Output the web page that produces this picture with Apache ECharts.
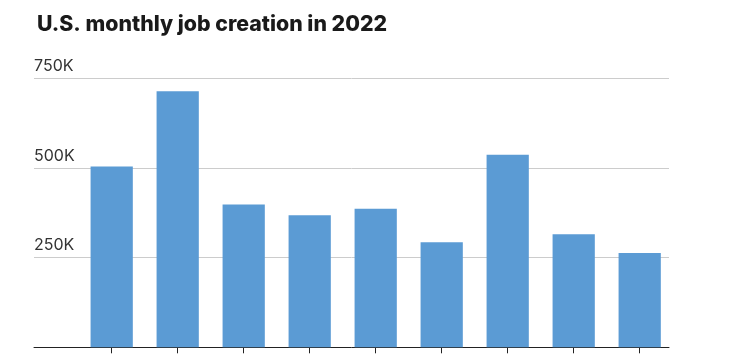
<!DOCTYPE html>
<html>
<head>
<meta charset="utf-8">
<script src="https://cdn.jsdelivr.net/npm/echarts@6/dist/echarts.min.js"></script>
<style>
html,body{margin:0;padding:0;background:#fff;}
#chart{width:731px;height:361px;}
</style>
</head>
<body>
<div id="chart"></div>
<script>
const titleText = 'U.S. monthly job creation in 2022';
const months = ['Jan', 'Feb', 'Mar', 'Apr', 'May', 'Jun', 'Jul', 'Aug', 'Sep'];
const jobsK = [504, 714, 398, 368, 386, 293, 537, 315, 263];
const yTicks = [0, 250, 500, 750];

const chart = echarts.init(document.getElementById('chart'), null, {renderer: 'canvas'});
const gridTop = 78.3, gridBottom = 13.7;
chart.setOption({
  animation: false,
  title: {
    text: titleText,
    left: 32, top: 9,
    textStyle: {fontFamily: 'Inter', fontWeight: 800, fontSize: 21.3, color: '#1a1a1a'}
  },
  grid: [
    {left: 78.7, right: 58.3, top: gridTop, bottom: gridBottom},
    {left: 34, right: 62, top: gridTop, bottom: gridBottom}
  ],
  xAxis: [
    {
      type: 'category', gridIndex: 0, data: months,
      axisLine: {show: false},
      axisTick: {show: true, alignWithLabel: true, length: 6, lineStyle: {color: '#222', width: 1}},
      axisLabel: {show: false}
    },
    {
      type: 'value', gridIndex: 1, min: 0, max: 1,
      axisLine: {show: true, onZero: false, lineStyle: {color: '#222', width: 1}},
      axisTick: {show: false}, axisLabel: {show: false}, splitLine: {show: false}
    }
  ],
  yAxis: [
    {type: 'value', gridIndex: 0, min: yTicks[0], max: yTicks[yTicks.length - 1], show: false},
    {
      type: 'value', gridIndex: 1, min: yTicks[0], max: yTicks[yTicks.length - 1], interval: 250,
      axisLine: {show: false}, axisTick: {show: false},
      axisLabel: {
        inside: true, margin: 0, verticalAlign: 'bottom', padding: [0, 0, 4, 0],
        fontFamily: 'Inter', fontSize: 16, color: '#333',
        formatter: v => v === 0 ? '' : v + 'K'
      },
      splitLine: {lineStyle: {color: '#cccccc', width: 1}}
    }
  ],
  series: [{
    type: 'bar', xAxisIndex: 0, yAxisIndex: 0,
    data: jobsK, barWidth: '64%',
    itemStyle: {color: '#5b9bd4'}
  }]
});
</script>
</body>
</html>
